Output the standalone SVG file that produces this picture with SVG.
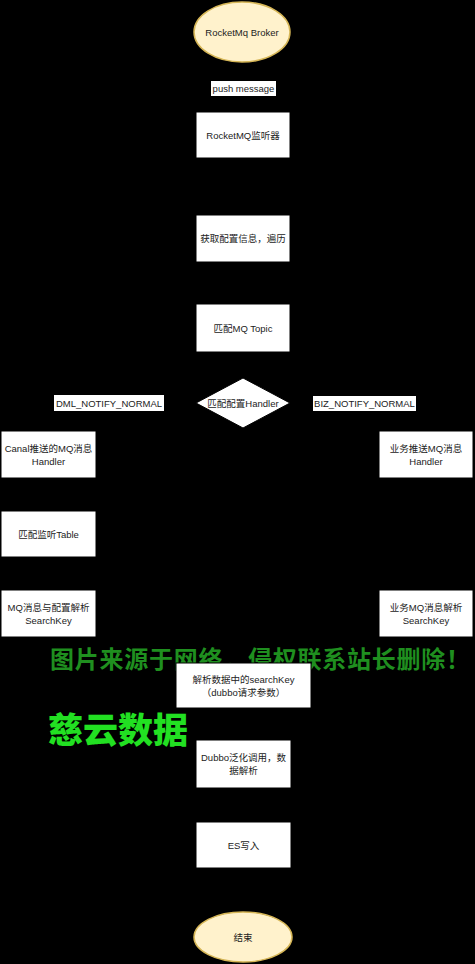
<svg xmlns="http://www.w3.org/2000/svg" width="475" height="964" viewBox="0 0 475 964">
<style>
.bg{fill:#000}
.box{fill:#fff;stroke:#000;stroke-width:1}
.term{fill:#fff2cc;stroke:#d6b656;stroke-width:1.5}
.t{font-family:"Liberation Sans","Noto Sans CJK SC",sans-serif;font-size:9.5px;fill:#222;text-anchor:middle;dominant-baseline:central}
.lbl{fill:#fff}
.edge{fill:none;stroke:#000;stroke-width:1}
.wm1{font-family:"Noto Sans CJK SC",sans-serif;font-size:24px;font-weight:bold;fill:#1f8f1f}
.wm2{font-family:"Noto Sans CJK SC",sans-serif;font-size:35px;font-weight:900;fill:#22e022}
</style>
<defs>
<marker id="arr" viewBox="0 0 10 10" refX="9" refY="5" markerWidth="7" markerHeight="7" orient="auto">
<path d="M0,0 L10,5 L0,10 z" fill="#000"/>
</marker>
</defs>
<rect class="bg" x="0" y="0" width="475" height="964"/>
<g id="watermarks">
<text class="wm1" x="50" y="668" textLength="420" lengthAdjust="spacing">图片来源于网络，侵权联系站长删除！</text>
<text class="wm2" x="48" y="743">慈云数据</text>
</g>
<g id="connectors">
<path class="edge" d="M243,62 V111" marker-end="url(#arr)"/>
<path class="edge" d="M243,158 V214" marker-end="url(#arr)"/>
<path class="edge" d="M243,262 V303" marker-end="url(#arr)"/>
<path class="edge" d="M243,352 V377" marker-end="url(#arr)"/>
<path class="edge" d="M196,403 H48 V430" marker-end="url(#arr)"/>
<path class="edge" d="M290,403 H426 V430" marker-end="url(#arr)"/>
<path class="edge" d="M48,478 V510" marker-end="url(#arr)"/>
<path class="edge" d="M48,557 V589" marker-end="url(#arr)"/>
<path class="edge" d="M426,478 V589" marker-end="url(#arr)"/>
<path class="edge" d="M48,637 V685 H175" marker-end="url(#arr)"/>
<path class="edge" d="M426,637 V685 H312" marker-end="url(#arr)"/>
<path class="edge" d="M243,708 V739" marker-end="url(#arr)"/>
<path class="edge" d="M243,788 V821" marker-end="url(#arr)"/>
<path class="edge" d="M243,868 V911" marker-end="url(#arr)"/>
<rect class="lbl" x="211" y="81" width="65" height="15"/>
<text class="t" x="243.5" y="88.5">push message</text>
<rect class="lbl" x="54" y="395" width="110" height="16"/>
<text class="t" x="109" y="403">DML_NOTIFY_NORMAL</text>
<rect class="lbl" x="313" y="396" width="103" height="15"/>
<text class="t" x="364.5" y="403">BIZ_NOTIFY_NORMAL</text>
</g>
<g id="broker">
<ellipse class="term" cx="242" cy="32" rx="48" ry="30"/>
<text class="t" x="242" y="32">RocketMq Broker</text>
</g>
<g id="listener">
<rect class="box" x="196" y="112" width="94" height="46"/>
<text class="t" x="243" y="135">RocketMQ监听器</text>
</g>
<g id="getconfig">
<rect class="box" x="196" y="215" width="94" height="47"/>
<text class="t" x="243" y="238.5">获取配置信息，遍历</text>
</g>
<g id="topic">
<rect class="box" x="196" y="304" width="94" height="48"/>
<text class="t" x="243" y="328">匹配MQ Topic</text>
</g>
<g id="handler">
<path class="box" d="M243,378 L290,403 L243,428 L196,403 Z"/>
<text class="t" x="243" y="403">匹配配置Handler</text>
</g>
<g id="canal">
<rect class="box" x="1" y="431" width="95" height="47"/>
<text class="t" x="48.5" y="448">Canal推送的MQ消息</text>
<text class="t" x="48.5" y="461">Handler</text>
</g>
<g id="biz">
<rect class="box" x="379" y="431" width="94" height="47"/>
<text class="t" x="426" y="448">业务推送MQ消息</text>
<text class="t" x="426" y="461">Handler</text>
</g>
<g id="table">
<rect class="box" x="1" y="511" width="95" height="46"/>
<text class="t" x="48.5" y="534">匹配监听Table</text>
</g>
<g id="mqparse">
<rect class="box" x="1" y="590" width="95" height="47"/>
<text class="t" x="48.5" y="607">MQ消息与配置解析</text>
<text class="t" x="48.5" y="620">SearchKey</text>
</g>
<g id="bizparse">
<rect class="box" x="379" y="590" width="94" height="47"/>
<text class="t" x="426" y="607">业务MQ消息解析</text>
<text class="t" x="426" y="620">SearchKey</text>
</g>
<g id="searchkey">
<rect class="box" x="176" y="663" width="135" height="45"/>
<text class="t" x="243.5" y="679">解析数据中的searchKey</text>
<text class="t" x="243.5" y="692">（dubbo请求参数）</text>
</g>
<g id="dubbo">
<rect class="box" x="196" y="740" width="95" height="48"/>
<text class="t" x="243.5" y="757">Dubbo泛化调用，数</text>
<text class="t" x="243.5" y="770">据解析</text>
</g>
<g id="es">
<rect class="box" x="196" y="822" width="95" height="46"/>
<text class="t" x="243.5" y="845">ES写入</text>
</g>
<g id="end">
<ellipse class="term" cx="243" cy="937" rx="49" ry="25"/>
<text class="t" x="243" y="937">结束</text>
</g>
</svg>
